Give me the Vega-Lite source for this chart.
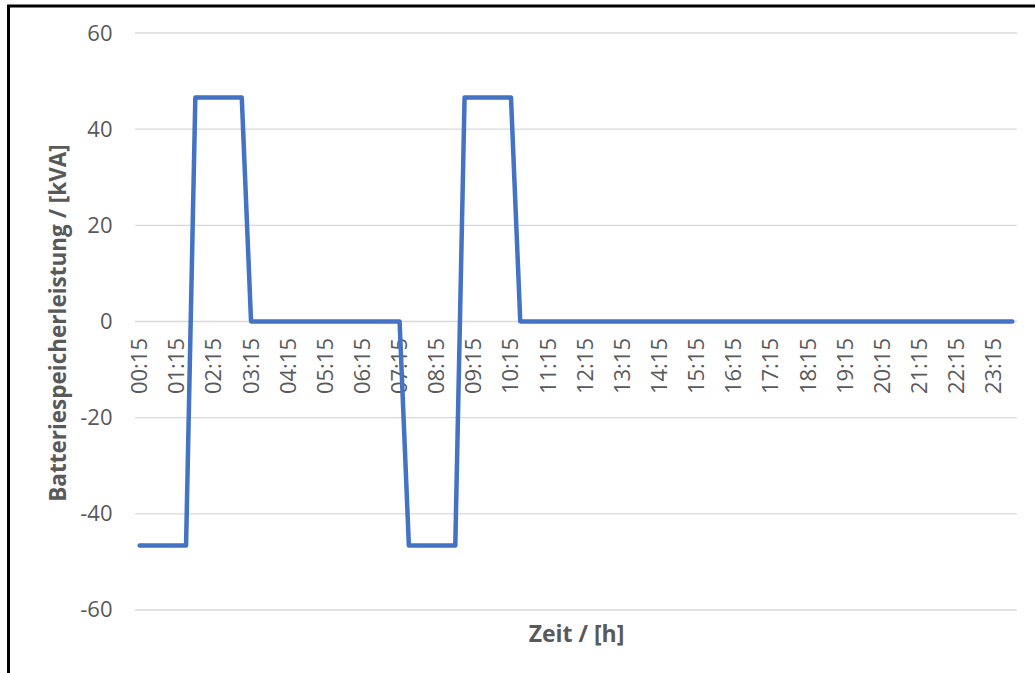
{
  "$schema": "https://vega.github.io/schema/vega-lite/v6.json",
  "width": 1029.5,
  "height": 670,
  "autosize": "none",
  "padding": {"left": 8.5, "top": 6, "right": -3, "bottom": -3},
  "background": "white",
  "config": {
    "view": {"stroke": "black", "strokeWidth": 3},
    "font": "Open Sans"
  },
  "datasets": {
    "series": [
      {"t": "2024-01-01T00:15:00", "p": -46.6}, {"t": "2024-01-01T00:30:00", "p": -46.6}, {"t": "2024-01-01T00:45:00", "p": -46.6}, {"t": "2024-01-01T01:00:00", "p": -46.6},
      {"t": "2024-01-01T01:15:00", "p": -46.6}, {"t": "2024-01-01T01:30:00", "p": -46.6}, {"t": "2024-01-01T01:45:00", "p": 46.6}, {"t": "2024-01-01T02:00:00", "p": 46.6},
      {"t": "2024-01-01T02:15:00", "p": 46.6}, {"t": "2024-01-01T02:30:00", "p": 46.6}, {"t": "2024-01-01T02:45:00", "p": 46.6}, {"t": "2024-01-01T03:00:00", "p": 46.6},
      {"t": "2024-01-01T03:15:00", "p": 0}, {"t": "2024-01-01T03:30:00", "p": 0}, {"t": "2024-01-01T03:45:00", "p": 0}, {"t": "2024-01-01T04:00:00", "p": 0},
      {"t": "2024-01-01T04:15:00", "p": 0}, {"t": "2024-01-01T04:30:00", "p": 0}, {"t": "2024-01-01T04:45:00", "p": 0}, {"t": "2024-01-01T05:00:00", "p": 0},
      {"t": "2024-01-01T05:15:00", "p": 0}, {"t": "2024-01-01T05:30:00", "p": 0}, {"t": "2024-01-01T05:45:00", "p": 0}, {"t": "2024-01-01T06:00:00", "p": 0},
      {"t": "2024-01-01T06:15:00", "p": 0}, {"t": "2024-01-01T06:30:00", "p": 0}, {"t": "2024-01-01T06:45:00", "p": 0}, {"t": "2024-01-01T07:00:00", "p": 0},
      {"t": "2024-01-01T07:15:00", "p": 0}, {"t": "2024-01-01T07:30:00", "p": -46.6}, {"t": "2024-01-01T07:45:00", "p": -46.6}, {"t": "2024-01-01T08:00:00", "p": -46.6},
      {"t": "2024-01-01T08:15:00", "p": -46.6}, {"t": "2024-01-01T08:30:00", "p": -46.6}, {"t": "2024-01-01T08:45:00", "p": -46.6}, {"t": "2024-01-01T09:00:00", "p": 46.6},
      {"t": "2024-01-01T09:15:00", "p": 46.6}, {"t": "2024-01-01T09:30:00", "p": 46.6}, {"t": "2024-01-01T09:45:00", "p": 46.6}, {"t": "2024-01-01T10:00:00", "p": 46.6},
      {"t": "2024-01-01T10:15:00", "p": 46.6}, {"t": "2024-01-01T10:30:00", "p": 0}, {"t": "2024-01-01T10:45:00", "p": 0}, {"t": "2024-01-01T11:00:00", "p": 0},
      {"t": "2024-01-01T11:15:00", "p": 0}, {"t": "2024-01-01T11:30:00", "p": 0}, {"t": "2024-01-01T11:45:00", "p": 0}, {"t": "2024-01-01T12:00:00", "p": 0},
      {"t": "2024-01-01T12:15:00", "p": 0}, {"t": "2024-01-01T12:30:00", "p": 0}, {"t": "2024-01-01T12:45:00", "p": 0}, {"t": "2024-01-01T13:00:00", "p": 0},
      {"t": "2024-01-01T13:15:00", "p": 0}, {"t": "2024-01-01T13:30:00", "p": 0}, {"t": "2024-01-01T13:45:00", "p": 0}, {"t": "2024-01-01T14:00:00", "p": 0},
      {"t": "2024-01-01T14:15:00", "p": 0}, {"t": "2024-01-01T14:30:00", "p": 0}, {"t": "2024-01-01T14:45:00", "p": 0}, {"t": "2024-01-01T15:00:00", "p": 0},
      {"t": "2024-01-01T15:15:00", "p": 0}, {"t": "2024-01-01T15:30:00", "p": 0}, {"t": "2024-01-01T15:45:00", "p": 0}, {"t": "2024-01-01T16:00:00", "p": 0},
      {"t": "2024-01-01T16:15:00", "p": 0}, {"t": "2024-01-01T16:30:00", "p": 0}, {"t": "2024-01-01T16:45:00", "p": 0}, {"t": "2024-01-01T17:00:00", "p": 0},
      {"t": "2024-01-01T17:15:00", "p": 0}, {"t": "2024-01-01T17:30:00", "p": 0}, {"t": "2024-01-01T17:45:00", "p": 0}, {"t": "2024-01-01T18:00:00", "p": 0},
      {"t": "2024-01-01T18:15:00", "p": 0}, {"t": "2024-01-01T18:30:00", "p": 0}, {"t": "2024-01-01T18:45:00", "p": 0}, {"t": "2024-01-01T19:00:00", "p": 0},
      {"t": "2024-01-01T19:15:00", "p": 0}, {"t": "2024-01-01T19:30:00", "p": 0}, {"t": "2024-01-01T19:45:00", "p": 0}, {"t": "2024-01-01T20:00:00", "p": 0},
      {"t": "2024-01-01T20:15:00", "p": 0}, {"t": "2024-01-01T20:30:00", "p": 0}, {"t": "2024-01-01T20:45:00", "p": 0}, {"t": "2024-01-01T21:00:00", "p": 0},
      {"t": "2024-01-01T21:15:00", "p": 0}, {"t": "2024-01-01T21:30:00", "p": 0}, {"t": "2024-01-01T21:45:00", "p": 0}, {"t": "2024-01-01T22:00:00", "p": 0},
      {"t": "2024-01-01T22:15:00", "p": 0}, {"t": "2024-01-01T22:30:00", "p": 0}, {"t": "2024-01-01T22:45:00", "p": 0}, {"t": "2024-01-01T23:00:00", "p": 0},
      {"t": "2024-01-01T23:15:00", "p": 0}, {"t": "2024-01-01T23:30:00", "p": 0}, {"t": "2024-01-01T23:45:00", "p": 0}
    ],
    "grid": [
      {"g": -60}, {"g": -40}, {"g": -20}, {"g": 0}, {"g": 20}, {"g": 40}, {"g": 60}
    ]
  },
  "layer": [
    {
      "data": {"name": "grid"},
      "mark": {"type": "rule", "color": "#d9d9d9", "strokeWidth": 1.3},
      "encoding": {
        "x": {"datum": {"year": 2024, "month": 1, "date": 1, "hours": 0, "minutes": 7, "seconds": 30}, "type": "temporal"},
        "x2": {"datum": {"year": 2024, "month": 1, "date": 1, "hours": 23, "minutes": 52, "seconds": 30}},
        "y": {"field": "g", "type": "quantitative"}
      }
    },
    {
      "data": {"name": "series"},
      "mark": {"type": "line", "color": "#4472C4", "strokeWidth": 4.5, "strokeCap": "round", "strokeJoin": "round"},
      "encoding": {
        "x": {
          "field": "t",
          "type": "temporal",
          "scale": {
            "domain": [
              {"year": 2023, "month": 12, "date": 31, "hours": 20, "minutes": 43, "seconds": 7},
              {"year": 2024, "month": 1, "date": 2, "hours": 0, "minutes": 26, "seconds": 30}
            ],
            "nice": false
          },
          "axis": {
            "orient": "bottom",
            "offset": -354.5,
            "values": [
              {"year": 2024, "month": 1, "date": 1, "hours": 0, "minutes": 15},
              {"year": 2024, "month": 1, "date": 1, "hours": 1, "minutes": 15},
              {"year": 2024, "month": 1, "date": 1, "hours": 2, "minutes": 15},
              {"year": 2024, "month": 1, "date": 1, "hours": 3, "minutes": 15},
              {"year": 2024, "month": 1, "date": 1, "hours": 4, "minutes": 15},
              {"year": 2024, "month": 1, "date": 1, "hours": 5, "minutes": 15},
              {"year": 2024, "month": 1, "date": 1, "hours": 6, "minutes": 15},
              {"year": 2024, "month": 1, "date": 1, "hours": 7, "minutes": 15},
              {"year": 2024, "month": 1, "date": 1, "hours": 8, "minutes": 15},
              {"year": 2024, "month": 1, "date": 1, "hours": 9, "minutes": 15},
              {"year": 2024, "month": 1, "date": 1, "hours": 10, "minutes": 15},
              {"year": 2024, "month": 1, "date": 1, "hours": 11, "minutes": 15},
              {"year": 2024, "month": 1, "date": 1, "hours": 12, "minutes": 15},
              {"year": 2024, "month": 1, "date": 1, "hours": 13, "minutes": 15},
              {"year": 2024, "month": 1, "date": 1, "hours": 14, "minutes": 15},
              {"year": 2024, "month": 1, "date": 1, "hours": 15, "minutes": 15},
              {"year": 2024, "month": 1, "date": 1, "hours": 16, "minutes": 15},
              {"year": 2024, "month": 1, "date": 1, "hours": 17, "minutes": 15},
              {"year": 2024, "month": 1, "date": 1, "hours": 18, "minutes": 15},
              {"year": 2024, "month": 1, "date": 1, "hours": 19, "minutes": 15},
              {"year": 2024, "month": 1, "date": 1, "hours": 20, "minutes": 15},
              {"year": 2024, "month": 1, "date": 1, "hours": 21, "minutes": 15},
              {"year": 2024, "month": 1, "date": 1, "hours": 22, "minutes": 15},
              {"year": 2024, "month": 1, "date": 1, "hours": 23, "minutes": 15}
            ],
            "format": "%H:%M",
            "labelAngle": -90,
            "labelPadding": 16,
            "labelOverlap": false,
            "labelFlush": false,
            "labelFont": "Open Sans",
            "labelFontSize": 22,
            "labelColor": "#595959",
            "domain": false,
            "ticks": false,
            "tickSize": 0,
            "grid": false,
            "title": "Zeit / [h]",
            "titleFont": "Open Sans",
            "titleFontSize": 23,
            "titleFontWeight": "bold",
            "titleColor": "#595959",
            "titleX": 567.5,
            "titleY": 312.5,
            "titleAlign": "center",
            "titleBaseline": "middle",
            "titleAngle": 0
          }
        },
        "y": {
          "field": "p",
          "type": "quantitative",
          "scale": {"domain": [-73.73, 65.62], "nice": false, "zero": false},
          "axis": {
            "orient": "left",
            "offset": -126.5,
            "values": [-60, -40, -20, 0, 20, 40, 60],
            "labelExpr": "toString(datum.value)",
            "labelPadding": 23,
            "labelFont": "Open Sans",
            "labelFontSize": 22,
            "labelColor": "#595959",
            "domain": false,
            "ticks": false,
            "tickSize": 0,
            "grid": false,
            "title": "Batteriespeicherleistung / [kVA]",
            "titleFont": "Open Sans",
            "titleFontSize": 22.5,
            "titleFontWeight": "bold",
            "titleColor": "#595959",
            "titleX": -77,
            "titleY": 316.5,
            "titleAngle": 270,
            "titleAlign": "center",
            "titleBaseline": "middle"
          }
        }
      }
    }
  ]
}
